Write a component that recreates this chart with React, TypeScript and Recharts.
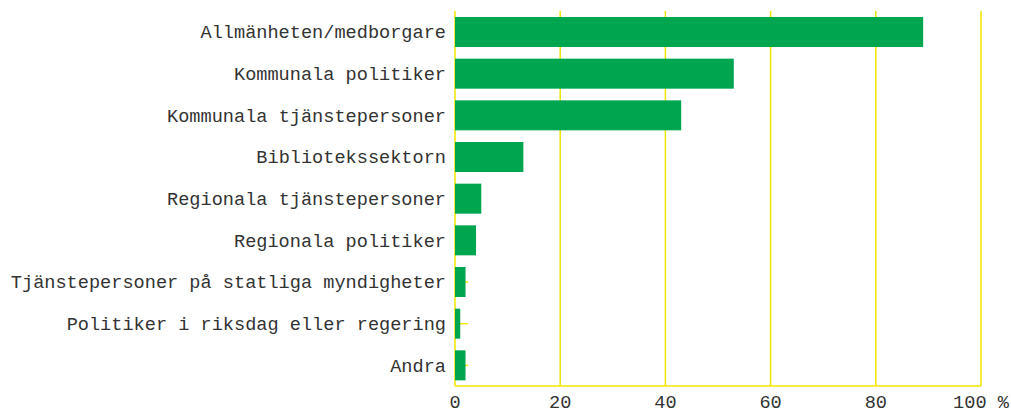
import { Bar, BarChart, CartesianGrid, XAxis, YAxis } from "recharts";

const categories = [
  "Allmänheten/medborgare",
  "Kommunala politiker",
  "Kommunala tjänstepersoner",
  "Bibliotekssektorn",
  "Regionala tjänstepersoner",
  "Regionala politiker",
  "Tjänstepersoner på statliga myndigheter",
  "Politiker i riksdag eller regering",
  "Andra",
];
const values = [89, 53, 43, 13, 5, 4, 2, 1, 2];
const xTicks = [0, 20, 40, 60, 80, 100];

const data = categories.map((name, i) => ({ name, value: values[i] }));

const yellow = "#f2e600";
const green = "#00a54f";
const font = "'Liberation Mono', monospace";

function CategoryTick({ x, y, payload }: any) {
  return (
    <text x={x - 9} y={y} dy="0.35em" textAnchor="end" fill="#333" fontSize={18.6} fontFamily={font}>
      {payload.value}
    </text>
  );
}

// small inner tick at the category centre, drawn under its own bar
function BarWithTick({ x, y, width, height }: any) {
  const cy = y + height / 2;
  return (
    <g>
      <line x1={x} x2={x + 13} y1={cy} y2={cy} stroke={yellow} strokeWidth={1.5} />
      <rect x={x} y={y} width={width} height={height} fill={green} />
    </g>
  );
}

export default function App() {
  return (
    <div style={{ position: "absolute", left: 0, top: 0 }}>
      <BarChart
        width={1011}
        height={412}
        data={data}
        layout="vertical"
        margin={{ top: 11, right: 30, bottom: 0, left: 0 }}
        barCategoryGap={0}
      >
        <CartesianGrid horizontal={false} stroke={yellow} strokeWidth={1.5} />
        <YAxis
          type="category"
          dataKey="name"
          width={455}
          axisLine={false}
          tickLine={false}
          tickSize={0}
          tickMargin={0}
          tick={<CategoryTick />}
          interval={0}
        />
        <XAxis
          type="number"
          domain={[0, 100]}
          ticks={xTicks}
          height={26}
          axisLine={{ stroke: yellow, strokeWidth: 1.5 }}
          tickLine={false}
          tickSize={0}
          tickMargin={9}
          tick={{ fill: "#333", fontSize: 18.6, fontFamily: font }}
          tickFormatter={(v: number) => (v === 100 ? "100 %" : String(v))}
        />
        <Bar dataKey="value" fill={green} barSize={30} shape={<BarWithTick />} isAnimationActive={false} />
      </BarChart>
    </div>
  );
}
